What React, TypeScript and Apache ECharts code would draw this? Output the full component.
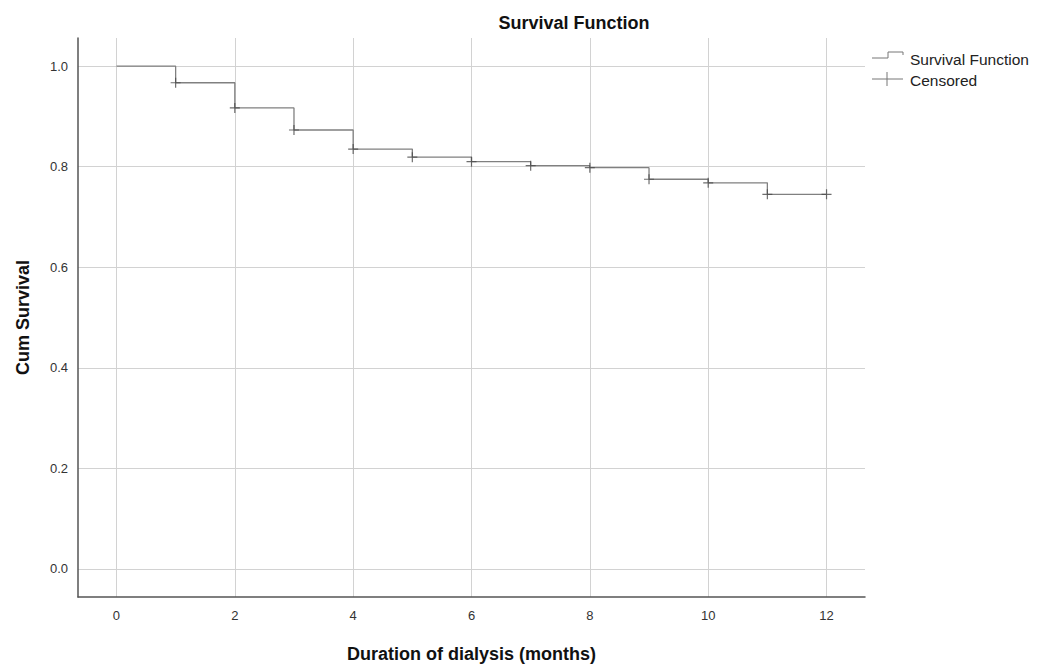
import React, { useEffect, useRef } from "react";
import * as echarts from "echarts";

const months = [0, 1, 2, 3, 4, 5, 6, 7, 8, 9, 10, 11, 12];
const survival = [1.0, 0.967, 0.917, 0.873, 0.835, 0.819, 0.81, 0.802, 0.798, 0.775, 0.768, 0.745, 0.745];
const censoredMonths = [1, 2, 3, 4, 5, 6, 7, 8, 9, 10, 11, 12];
const censoredValues = [0.967, 0.917, 0.873, 0.835, 0.819, 0.81, 0.802, 0.798, 0.775, 0.768, 0.745, 0.745];
const xTicks = [0, 2, 4, 6, 8, 10, 12];
const yTicks = [0, 0.2, 0.4, 0.6, 0.8, 1.0];

const FONT = "'Liberation Sans', Arial, sans-serif";
const PLUS = "path://M4.4,0H5.6V4.4H10V5.6H5.6V10H4.4V5.6H0V4.4H4.4Z";

export default function App() {
  const ref = useRef<HTMLDivElement>(null);
  useEffect(() => {
    if (!ref.current) return;
    const chart = echarts.init(ref.current, undefined, { renderer: "svg" });
    chart.setOption({
      animation: false,
      backgroundColor: "#ffffff",
      grid: { left: 78, right: 180, top: 38, bottom: 71 },
      xAxis: {
        type: "value",
        min: -0.65,
        max: 12.65,
        name: "Duration of dialysis (months)",
        nameLocation: "middle",
        nameGap: 48,
        nameTextStyle: { fontFamily: FONT, fontSize: 18, fontWeight: "bold", color: "#111" },
        axisLine: { show: true, onZero: false, lineStyle: { color: "#555", width: 1.5 } },
        axisTick: { show: false, customValues: xTicks },
        axisLabel: { customValues: xTicks, fontFamily: FONT, fontSize: 13, color: "#333", margin: 12 },
        splitLine: { show: true, lineStyle: { color: "#d2d2d2", width: 1 } },
      },
      yAxis: {
        type: "value",
        min: -0.056,
        max: 1.056,
        name: "Cum Survival",
        nameLocation: "middle",
        nameGap: 46,
        nameTextStyle: { fontFamily: FONT, fontSize: 18, fontWeight: "bold", color: "#111" },
        axisLine: { show: true, onZero: false, lineStyle: { color: "#555", width: 1.5 } },
        axisTick: { show: false, customValues: yTicks },
        axisLabel: {
          customValues: yTicks,
          formatter: (v: number) => v.toFixed(1),
          fontFamily: FONT,
          fontSize: 13,
          color: "#333",
          margin: 10,
        },
        splitLine: { show: true, lineStyle: { color: "#d2d2d2", width: 1 } },
      },
      series: [
        {
          type: "line",
          step: "end",
          data: months.map((m, i) => [m, survival[i]]),
          symbol: "none",
          lineStyle: { color: "#808080", width: 1.3 },
          z: 3,
        },
        {
          type: "scatter",
          data: censoredMonths.map((m, i) => [m, censoredValues[i]]),
          symbol: PLUS,
          symbolSize: 10,
          itemStyle: { color: "#4a4a4a" },
          z: 4,
        },
      ],
      graphic: [
        {
          type: "text",
          x: 574,
          y: 23,
          style: {
            text: "Survival Function",
            fontFamily: FONT,
            fontSize: 18,
            fontWeight: "bold",
            fill: "#111",
            textAlign: "center",
            textVerticalAlign: "middle",
          },
        },
        {
          type: "polyline",
          shape: { points: [[872, 58], [888, 58], [888, 52], [903, 52], [903, 55]] },
          style: { stroke: "#777", lineWidth: 1, fill: null },
        },
        {
          type: "line",
          shape: { x1: 872, y1: 79, x2: 903, y2: 79 },
          style: { stroke: "#777", lineWidth: 1 },
        },
        {
          type: "line",
          shape: { x1: 887, y1: 72, x2: 887, y2: 86 },
          style: { stroke: "#777", lineWidth: 1 },
        },
        {
          type: "text",
          x: 910,
          y: 59,
          style: {
            text: "Survival Function",
            fontFamily: FONT,
            fontSize: 15.5,
            fill: "#222",
            textVerticalAlign: "middle",
          },
        },
        {
          type: "text",
          x: 910,
          y: 80,
          style: {
            text: "Censored",
            fontFamily: FONT,
            fontSize: 15.5,
            fill: "#222",
            textVerticalAlign: "middle",
          },
        },
      ],
    });
    return () => chart.dispose();
  }, []);
  return (
    <div
      ref={ref}
      style={{ position: "fixed", left: 0, top: 0, width: 1045, height: 668, background: "#fff" }}
    />
  );
}
